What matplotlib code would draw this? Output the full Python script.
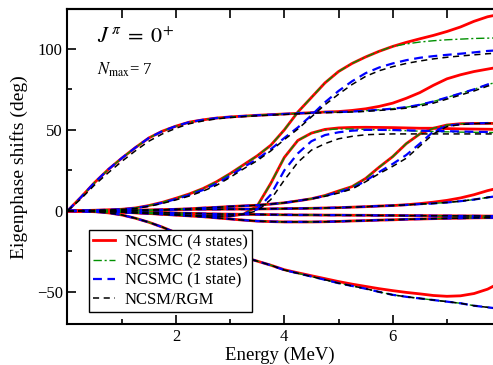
import numpy as np
import matplotlib
matplotlib.use("Agg")
import matplotlib.pyplot as plt

plt.rcParams["font.family"] = ["Liberation Serif", "DejaVu Serif"]
plt.rcParams["mathtext.fontset"] = "stix"

# energy grid (MeV)
energy = np.arange(0, 8.01, 0.25)

# eigenphase branches (deg)
a_red = [0, 8.5, 17.5, 25.5, 32.5, 39, 45, 49.2, 52.3, 54.8, 56.2, 57.3, 58, 58.5, 59, 59.4, 59.8,
         60.2, 60.6, 61, 61.3, 62, 63, 64.5, 66.5, 69.5, 73, 77.5, 81.5, 84, 86, 87.5, 89]
a_other = [0, 8.5, 17.5, 25.5, 32.5, 39, 45, 49.2, 52.3, 54.8, 56.2, 57.3, 58, 58.5, 59, 59.4, 59.8,
           60.2, 60.6, 61, 61, 61.3, 61.8, 62.4, 63.1, 64, 65.5, 67.5, 70, 72.5, 75, 78, 80]
a_black = [0, 7.5, 16, 23.5, 30.5, 37, 43, 47.5, 51, 53.8, 55.5, 56.8, 57.6, 58.2, 58.7, 59.1, 59.5,
           59.9, 60.3, 60.6, 60.8, 61, 61.4, 62, 62.6, 63.4, 64.7, 66.5, 69, 71.5, 74, 77, 79]

b_red = [0, 0.2, 0.4, 0.7, 1, 1.8, 3.3, 5.3, 7.8, 10.5, 13.8, 18, 23, 28.5, 34, 40.5, 50,
         61, 70, 79, 86, 91, 95, 98.5, 101.5, 104, 106.2, 108.3, 110.7, 113.5, 117, 119.8, 121.5]
b_green = [0, 0.2, 0.4, 0.7, 1, 1.8, 3.3, 5.3, 7.8, 10.5, 13.8, 18, 23, 28.5, 34, 40.5, 50,
           61, 70, 79, 86, 91, 95, 98.5, 101.5, 103, 104.2, 105, 105.6, 106, 106.4, 106.6, 106.8]
b_blue = [0, 0.2, 0.4, 0.7, 1, 1.7, 3.1, 5, 7.3, 9.8, 12.9, 16.8, 21.7, 27, 32, 38, 45,
          51.5, 59, 67, 74, 80, 85, 88.5, 91, 93, 94.5, 95.5, 96.3, 97, 97.8, 98.7, 99.2]
b_black = [0, 0.2, 0.4, 0.6, 0.9, 1.5, 2.8, 4.6, 6.8, 9.2, 12.2, 15.8, 20.7, 26, 31, 37, 44,
           50.5, 58, 65.5, 72, 78, 83, 86.5, 89, 91, 92.5, 93.8, 94.8, 95.6, 96.3, 97, 97.5]

c_red = [0, -0.1, -0.3, -0.5, -0.8, -1.1, -1.5, -1.9, -2.3, -2.7, -3, -3.2, -3.2, -2, 3, 17, 33,
         43.5, 48, 50.3, 51.2, 51.5, 51.6, 51.5, 51.4, 51.2, 51, 51, 50.8, 50.6, 50.5, 50.4, 50.3]
c_green = [0, -0.1, -0.3, -0.5, -0.8, -1.1, -1.5, -1.9, -2.3, -2.7, -3, -3.2, -3.2, -2, 3, 17, 33,
           43.5, 48, 50, 50.6, 50.5, 50.3, 50, 49.8, 49.5, 49.2, 49, 48.8, 48.6, 48.5, 48.4, 48.3]
c_blue = [0, -0.1, -0.3, -0.5, -0.8, -1.1, -1.5, -1.9, -2.3, -2.7, -3, -3.2, -3.2, -2, 1, 10, 25,
          35.5, 43, 46.8, 48.5, 49.5, 50, 50, 49.9, 49.7, 49.5, 49.3, 49.2, 49, 48.8, 48.7, 48.6]
c_black = [0, -0.1, -0.3, -0.5, -0.8, -1.1, -1.5, -1.9, -2.3, -2.7, -3, -3.2, -3.2, -2, 0, 7, 19,
           30, 37.5, 41.5, 44.5, 46, 47, 47.3, 47.5, 47.5, 47.5, 47.5, 47.5, 47.5, 47.5, 47.5, 47.5]

d_red = [0, 0, 0.1, 0.2, 0.3, 0.4, 0.5, 0.7, 1, 1.3, 1.8, 2.2, 2.7, 3.1, 3.5, 4.2, 5,
         6.2, 7.5, 9.5, 12.3, 15, 20, 27, 33.5, 41.5, 47.5, 51, 53, 53.8, 54, 54, 54]
d_blue = [0, 0, 0.1, 0.2, 0.3, 0.4, 0.5, 0.7, 1, 1.3, 1.8, 2.2, 2.7, 3.1, 3.5, 4.2, 5,
          6.2, 7.5, 9.2, 11.5, 14, 18.5, 24, 29, 34.5, 41.5, 49, 52.5, 53.5, 54, 54.2, 54.3]
d_black = [0, 0, 0.1, 0.2, 0.3, 0.4, 0.5, 0.7, 1, 1.3, 1.8, 2.2, 2.7, 3.1, 3.5, 4.2, 5,
           6.2, 7.5, 9, 11, 13.5, 18, 23, 27.5, 32.5, 40, 47.5, 52, 53.3, 53.8, 54, 54.1]

e_red = [0, 0, 0.1, 0.2, 0.3, 0.4, 0.5, 0.6, 0.8, 0.9, 1, 1, 1.1, 1.1, 1.2, 1.3, 1.4,
         1.5, 1.6, 1.8, 2, 2.3, 2.6, 3, 3.3, 3.8, 4.5, 5.4, 6.5, 8, 10, 12.5, 14.5]
e_other = [0, 0, 0.1, 0.2, 0.3, 0.4, 0.5, 0.6, 0.8, 0.9, 1, 1, 1.1, 1.1, 1.2, 1.3, 1.4,
           1.5, 1.6, 1.8, 2, 2.3, 2.6, 3, 3.3, 3.7, 4.2, 4.6, 5.2, 6, 7, 8.3, 9.5]

f_all = [0, -0.1, -0.2, -0.3, -0.4, -0.6, -0.8, -1, -1.3, -1.5, -1.7, -1.9, -2, -2.1, -2.2, -2.3, -2.4,
         -2.5, -2.5, -2.6, -2.6, -2.7, -2.7, -2.8, -2.8, -2.9, -2.9, -3, -3, -3.1, -3.1, -3.2, -3.2]
g_all = [0, -0.1, -0.3, -0.5, -0.8, -1.2, -1.6, -2.1, -2.6, -3.1, -3.6, -4.3, -5, -5.7, -6.3, -6.6, -6.8,
         -6.8, -6.8, -6.7, -6.5, -6.2, -6, -5.7, -5.5, -5.2, -5, -4.8, -4.6, -4.5, -4.3, -4.2, -4.2]

h_red = [0, -0.2, -0.5, -1.2, -2.5, -4.5, -7, -10, -13.5, -17, -20.5, -23.5, -26.3, -28.5, -31, -33.5, -36.3,
         -38.2, -40, -41.8, -43.6, -45.2, -46.6, -48, -49.2, -50.3, -51.2, -52.2, -52.7, -52.4, -51, -48.3, -44]
h_other = [0, -0.2, -0.5, -1.2, -2.5, -4.5, -7, -10, -13.5, -17, -20.5, -23.5, -26.3, -28.5, -31, -33.5, -36.5,
           -38.5, -40.5, -42.5, -44.6, -46.3, -48, -50, -51.8, -53, -54, -55, -56, -57, -58.5, -59.5, -60.5]

ncsmc4 = [a_red, b_red, c_red, d_red, e_red, f_all, g_all, h_red]
ncsmc2 = [a_other, b_green, c_green, d_red, e_other, f_all, g_all, h_other]
ncsmc1 = [a_other, b_blue, c_blue, d_blue, e_other, f_all, g_all, h_other]
rgm = [a_black, b_black, c_black, d_black, e_other, f_all, g_all, h_other]

labels = ["NCSMC (4 states)", "NCSMC (2 states)", "NCSMC (1 state)", "NCSM/RGM"]

fig = plt.figure(figsize=(4.93, 3.65), dpi=100)
ax = fig.add_axes([0.1369, 0.1123, 0.8631, 0.8622])

styles = [
    dict(color="#ff0000", lw=2.0, ls="-"),
    dict(color="#009000", lw=1.0, ls=(0, (6, 2, 1.5, 2))),
    dict(color="#0000ff", lw=1.6, ls=(0, (4, 2.5))),
    dict(color="black", lw=1.1, ls=(0, (4, 3))),
]

for series, style, label in zip([ncsmc4, ncsmc2, ncsmc1, rgm], styles, labels):
    for i, branch in enumerate(series):
        ax.plot(energy, branch, label=label if i == 0 else None, **style)

ax.set_xlim(0, 7.85)
ax.set_ylim(-69.8, 124.4)
ax.set_xticks([2, 4, 6])
ax.set_xticks([1, 3, 5, 7], minor=True)
ax.set_yticks([-50, 0, 50, 100])
ax.set_yticks([-25, 25, 75], minor=True)
ax.tick_params(which="both", direction="in", labelsize=12, width=1.2)
ax.tick_params(which="major", length=6.5)
ax.tick_params(which="minor", length=3.5)
for s in ["left", "top", "bottom"]:
    ax.spines[s].set_linewidth(1.5)
ax.spines["right"].set_visible(False)

top = ax.secondary_xaxis("top")
top.set_xticks([1, 2, 3, 4, 5, 6, 7])
top.tick_params(direction="in", length=6.5, width=1.2, labeltop=False)
top.spines["top"].set_linewidth(1.5)

ax.set_xlabel("Energy (MeV)", fontsize=13.5, labelpad=1)
ax.set_ylabel("Eigenphase shifts (deg)", fontsize=14, labelpad=6)

ax.text(0.069, 0.909, r"$J^{\,\pi}\;=\;0^{+}$", transform=ax.transAxes,
        fontsize=16, va="center", ha="left")
ax.text(0.069, 0.807, r"$N_{\rm max}$= 7", transform=ax.transAxes,
        fontsize=12, va="center", ha="left")

leg = ax.legend(loc="upper left", bbox_to_anchor=(0.05, 0.299), borderaxespad=0,
                fontsize=12, frameon=True, fancybox=False, framealpha=1,
                edgecolor="black", handlelength=1.3, handletextpad=0.6,
                labelspacing=0.2, borderpad=0.25)
leg.get_frame().set_linewidth(1.0)

plt.savefig("out.png", dpi=100)
